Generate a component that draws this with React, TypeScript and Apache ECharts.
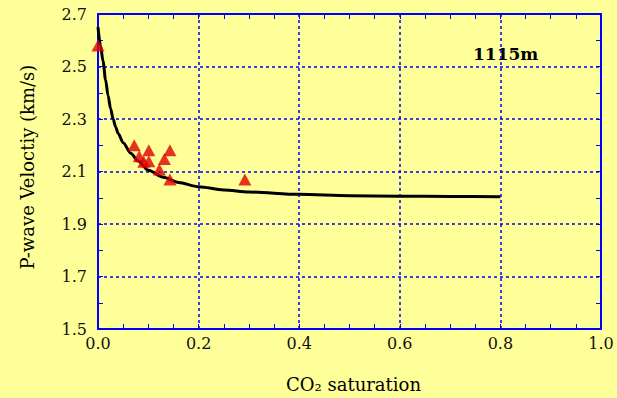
import React, { useEffect, useRef } from "react";
import * as echarts from "echarts";

const xTicks = [0, 0.2, 0.4, 0.6, 0.8, 1.0];
const yTicks = [1.5, 1.7, 1.9, 2.1, 2.3, 2.5, 2.7];

const obsSaturation = [0.0, 0.072, 0.082, 0.091, 0.101, 0.101, 0.122, 0.132, 0.143, 0.143, 0.292];
const obsVelocity = [2.58, 2.2, 2.158, 2.137, 2.181, 2.139, 2.108, 2.148, 2.181, 2.07, 2.07];

const modelSaturation = [0, 0.005, 0.01, 0.015, 0.02, 0.025, 0.03, 0.035, 0.04, 0.05, 0.065, 0.08, 0.1, 0.13, 0.16, 0.2, 0.25, 0.3, 0.4, 0.5, 0.6, 0.7, 0.8];
const modelVelocity = [2.65, 2.58, 2.52, 2.45, 2.39, 2.34, 2.3, 2.27, 2.245, 2.21, 2.17, 2.14, 2.105, 2.078, 2.058, 2.042, 2.03, 2.022, 2.013, 2.008, 2.006, 2.005, 2.004];

const depthLabel = "1115m";

const FONT = "DejaVu Serif";
const BLUE = "#0000FF";

export default function App() {
  const ref = useRef<HTMLDivElement>(null);
  useEffect(() => {
    document.body.style.margin = "0";
    const chart = echarts.init(ref.current!, null, { renderer: "svg" });
    const axisCommon = {
      axisLine: { show: true, onZero: false, lineStyle: { color: BLUE, width: 2 } },
      axisTick: { show: true, inside: true, length: 5, lineStyle: { color: BLUE, width: 1 } },
      minorTick: { show: true, length: 5, lineStyle: { color: BLUE, width: 1 } },
    };
    chart.setOption({
      animation: false,
      backgroundColor: "#FFFF99",
      grid: { left: 98, right: 16, top: 14, bottom: 68 },
      graphic: [
        {
          type: "text",
          left: 473,
          top: 45,
          style: { text: depthLabel, font: `bold 17px "${FONT}"`, fill: "#000" },
        },
      ],
      xAxis: [
        {
          type: "value",
          min: xTicks[0],
          max: xTicks[xTicks.length - 1],
          interval: 0.2,
          position: "bottom",
          name: "CO₂ saturation",
          nameLocation: "middle",
          nameGap: 46,
          nameTextStyle: { fontFamily: FONT, fontSize: 18, color: "#000", padding: [0, 0, 0, 8] },
          ...axisCommon,
          minorTick: { ...axisCommon.minorTick, splitNumber: 4 },
          axisLabel: {
            fontFamily: FONT,
            fontSize: 16,
            color: "#111",
            margin: 6,
            formatter: (v: number) => v.toFixed(1),
          },
          splitLine: { show: true, lineStyle: { color: BLUE, type: [3, 3], width: 1.5 } },
        },
        {
          type: "value",
          min: xTicks[0],
          max: xTicks[xTicks.length - 1],
          interval: 0.2,
          position: "top",
          ...axisCommon,
          minorTick: { ...axisCommon.minorTick, splitNumber: 4 },
          axisLabel: { show: false },
          splitLine: { show: false },
        },
      ],
      yAxis: [
        {
          type: "value",
          min: yTicks[0],
          max: yTicks[yTicks.length - 1],
          interval: 0.2,
          position: "left",
          name: "P-wave Veloctiy (km/s)",
          nameLocation: "middle",
          nameGap: 62,
          nameTextStyle: { fontFamily: FONT, fontSize: 18, color: "#000", padding: [0, 0, 0, 9] },
          ...axisCommon,
          minorTick: { ...axisCommon.minorTick, splitNumber: 2 },
          axisLabel: {
            fontFamily: FONT,
            fontSize: 16,
            color: "#111",
            margin: 11,
            formatter: (v: number) => v.toFixed(1),
          },
          splitLine: { show: true, lineStyle: { color: BLUE, type: [3, 3], width: 1.5 } },
        },
        {
          type: "value",
          min: yTicks[0],
          max: yTicks[yTicks.length - 1],
          interval: 0.2,
          position: "right",
          ...axisCommon,
          minorTick: { ...axisCommon.minorTick, splitNumber: 2 },
          axisLabel: { show: false },
          splitLine: { show: false },
        },
      ],
      series: [
        {
          type: "line",
          data: modelSaturation.map((x, i) => [x, modelVelocity[i]]),
          smooth: 0.3,
          smoothMonotone: "x",
          showSymbol: false,
          lineStyle: { color: "#000", width: 3 },
          z: 2,
        },
        {
          type: "scatter",
          data: obsSaturation.map((x, i) => [x, obsVelocity[i]]),
          symbol: "triangle",
          symbolSize: [13, 12],
          itemStyle: { color: "#E00000" },
          z: 3,
        },
      ],
    });
    return () => chart.dispose();
  }, []);
  return <div ref={ref} style={{ width: 617, height: 398 }} />;
}
